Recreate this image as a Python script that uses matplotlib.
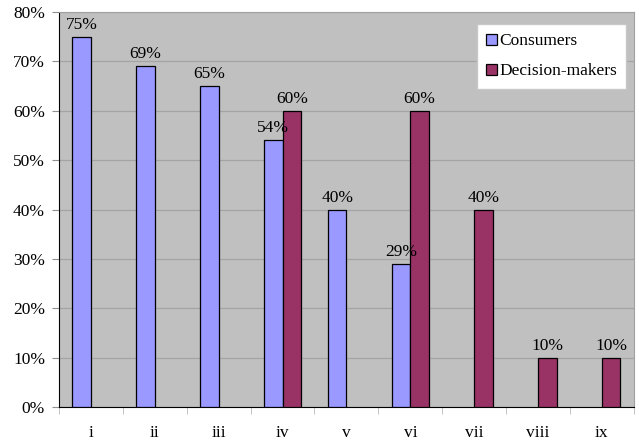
import matplotlib
matplotlib.use("Agg")
import matplotlib.pyplot as plt
import numpy as np

categories = ["i", "ii", "iii", "iv", "v", "vi", "vii", "viii", "ix"]
consumers = [75, 69, 65, 54, 40, 29, 0, 0, 0]
decision_makers = [0, 0, 0, 60, 0, 60, 40, 10, 10]
yticks = [0, 10, 20, 30, 40, 50, 60, 70, 80]

plt.rcParams["font.family"] = ["Liberation Serif", "DejaVu Serif"]
FS = 12.5

fig = plt.figure(figsize=(6.39, 4.44), dpi=100)
ax = fig.add_axes([0.0923, 0.0833, 0.8997, 0.8897])
ax.set_facecolor("#C0C0C0")

x = np.arange(len(categories))
w = 0.29


def draw_series(values, offset, color, label):
    idx = [i for i, v in enumerate(values) if v > 0]
    vals = [values[i] for i in idx]
    bars = ax.bar(x[idx] + offset, vals, w, color=color, edgecolor="black",
                  linewidth=0.9, label=label, zorder=3)
    for rect, v in zip(bars, vals):
        ax.text(rect.get_x() + rect.get_width() / 2, v + 0.8, f"{v}%",
                ha="center", va="bottom", fontsize=FS, zorder=4)


draw_series(consumers, -w / 2, "#9999FF", "Consumers")
draw_series(decision_makers, w / 2, "#993366", "Decision-makers")

ax.set_xlim(-0.5, len(categories) - 0.5)
ax.set_ylim(0, 80)
ax.set_yticks(yticks)
ax.set_yticklabels([f"{t}%" for t in yticks], fontsize=FS)
ax.yaxis.grid(True, color="#A4A4A4", linewidth=0.9, zorder=0)
ax.set_axisbelow(True)

ax.set_xticks(x)
ax.set_xticklabels(categories, fontsize=FS)
ax.tick_params(axis="x", length=0, pad=13)
ax.set_xticks(np.arange(-0.5, len(categories)), minor=True)
ax.tick_params(axis="x", which="minor", length=5, color="#B8B8B8")
ax.tick_params(axis="y", length=5, color="#909090", pad=5)

for s in ("top", "right"):
    ax.spines[s].set_color("#A0A0A0")
ax.spines["left"].set_color("black")
ax.spines["bottom"].set_color("black")

leg = ax.legend(loc="upper right", bbox_to_anchor=(0.987, 0.97), fontsize=FS,
                frameon=True, fancybox=False, handlelength=0.6, handleheight=0.6,
                handletextpad=0.15, borderpad=0.55, labelspacing=0.8,
                borderaxespad=0)
leg.get_frame().set_edgecolor("#C8C8C8")
leg.get_frame().set_facecolor("white")
leg.get_frame().set_alpha(1)

fig.savefig("out.png", dpi=100)
